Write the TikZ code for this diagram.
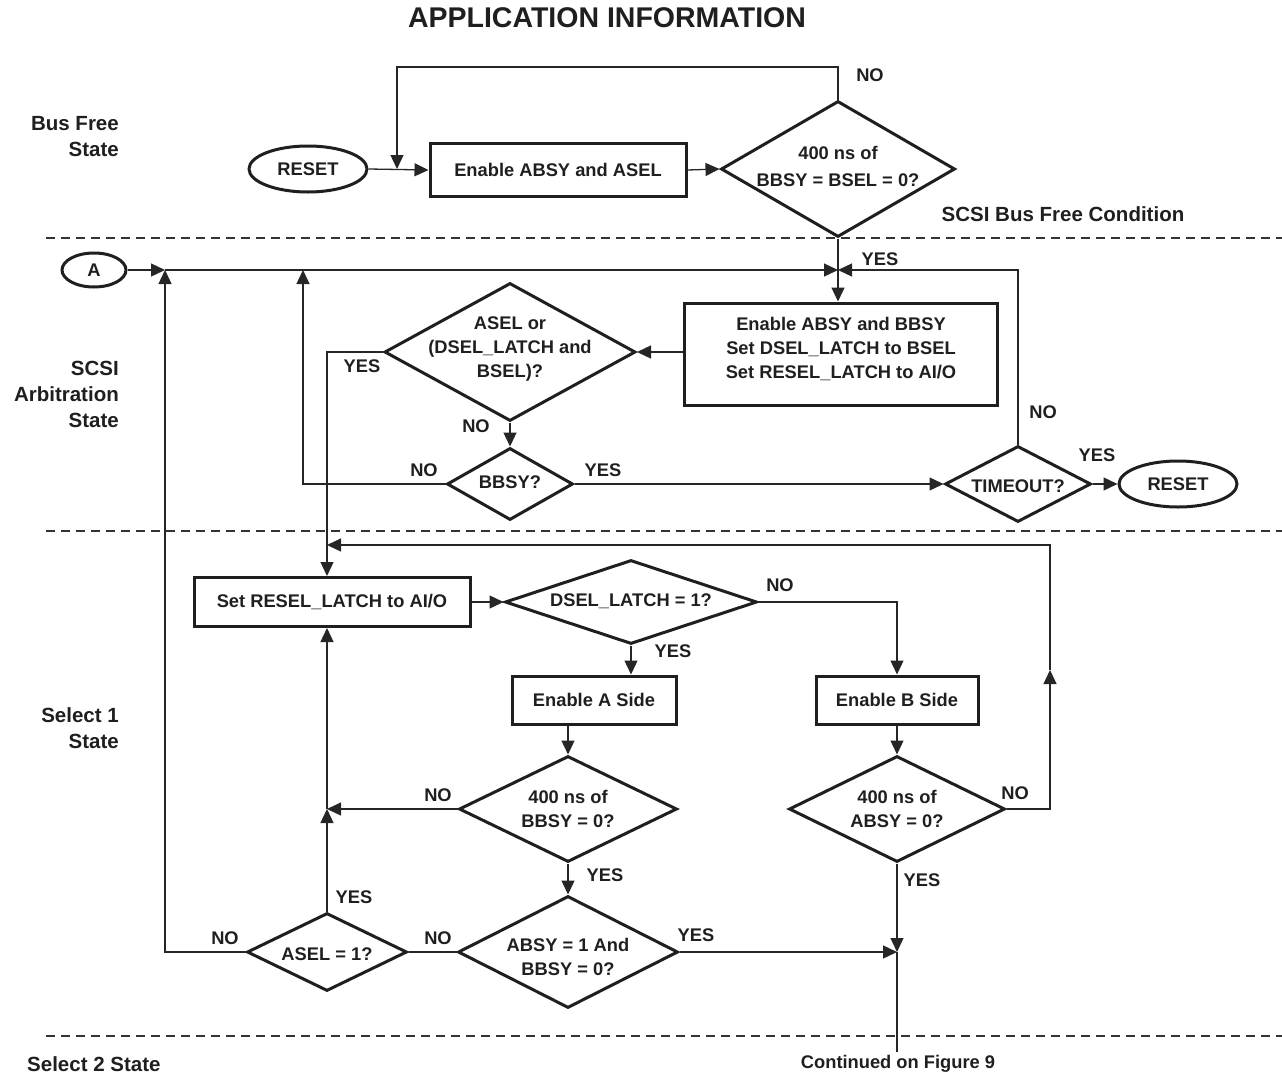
\documentclass[tikz,border=0pt]{standalone}
\usepackage{fontspec}
\setmainfont{Liberation Sans}
\usetikzlibrary{arrows.meta,shapes.geometric}
\begin{document}
\begin{tikzpicture}[x=1pt,y=-1pt,
  txt/.style={font=\fontsize{18.3}{24}\selectfont\bfseries, text=black!88, align=center, inner sep=0pt},
  st/.style={font=\fontsize{20.5}{26}\selectfont\bfseries, text=black!88, align=right, inner sep=0pt},
  box/.style={draw=black!88, rectangle, line width=3pt, inner sep=0pt, txt},
  dia/.style={draw=black!88, diamond, line width=3pt, inner sep=0pt},
  oval/.style={draw=black!88, ellipse, line width=3pt, inner sep=0pt, txt},
  conn/.style={draw=black!85, line width=1.3pt},
  arr/.style={conn, -{Triangle[length=14pt,width=13pt]}},
  sepline/.style={draw=black!80, line width=2pt, dash pattern=on 8.5pt off 6.5pt}]
\useasboundingbox (0,0) rectangle (1282,1076);

% title and state labels
\node[font=\fontsize{28.5}{32}\selectfont\bfseries, text=black!88, inner sep=0pt] (title) at (607,18) {APPLICATION INFORMATION};
\node[st, anchor=east] (s1) at (119,137) {Bus Free\\State};
\node[st, anchor=east] (s2) at (119,394) {SCSI\\Arbitration\\State};
\node[st, anchor=east] (s3) at (119,728) {Select 1\\State};
\node[st, anchor=west] (s4) at (27,1064) {Select 2 State};
\node[st, align=center] (cond) at (1063,214) {SCSI Bus Free Condition};
\node[txt] (cont) at (898,1064) {Continued on Figure 9};

% separators
\draw[sepline] (46,238) -- (1282,238);
\draw[sepline] (46,531) -- (1282,531);
\draw[sepline] (46,1036) -- (1282,1036);

% bus free state
\node[oval, minimum width=118pt, minimum height=46pt] (reset1) at (308,169) {RESET};
\node[box, minimum width=256pt, minimum height=53pt] (b1) at (558,170) {Enable ABSY and ASEL};
\node[dia, minimum width=234pt, minimum height=136pt] (d1) at (838,169) {};
\node[txt, font=\fontsize{18.3}{27}\selectfont\bfseries] (t1) at (838,166) {400 ns of\\BBSY = BSEL = 0?};

% arbitration state
\node[oval, minimum width=64pt, minimum height=34pt] (A) at (94,270) {A};
\node[box, minimum width=313pt, minimum height=102pt] (b2) at (841,354) {};
\node[txt] (t2) at (841,349) {Enable ABSY and BBSY\\Set DSEL\_LATCH to BSEL\\Set RESEL\_LATCH to AI/O};
\node[dia, minimum width=251pt, minimum height=138pt] (d2) at (510,352) {};
\node[txt] (t3) at (510,349) {ASEL or\\(DSEL\_LATCH and\\BSEL)?};
\node[dia, minimum width=126pt, minimum height=72pt] (d3) at (510,484) {};
\node[txt] (t4) at (510,482) {BBSY?};
\node[dia, minimum width=146pt, minimum height=76pt] (d5) at (1018,484) {};
\node[txt] (t5) at (1018,486) {TIMEOUT?};
\node[oval, minimum width=118pt, minimum height=46pt] (reset2) at (1178,484) {RESET};

% select 1 state
\node[box, minimum width=276pt, minimum height=49pt] (b3) at (332,602) {Set RESEL\_LATCH to AI/O};
\node[dia, minimum width=252pt, minimum height=84pt] (d4) at (631,602) {};
\node[txt] (t6) at (631,601) {DSEL\_LATCH = 1?};
\node[box, minimum width=164pt, minimum height=48pt] (bA) at (594,700) {Enable A Side};
\node[box, minimum width=162pt, minimum height=48pt] (bB) at (897,700) {Enable B Side};
\node[dia, minimum width=218pt, minimum height=106pt] (d6) at (568,809) {};
\node[txt] (t7) at (568,809) {400 ns of\\BBSY = 0?};
\node[dia, minimum width=216pt, minimum height=106pt] (d7) at (897,809) {};
\node[txt] (t8) at (897,809) {400 ns of\\ABSY = 0?};
\node[dia, minimum width=220pt, minimum height=112pt] (d8) at (568,952) {};
\node[txt] (t9) at (568,957) {ABSY = 1 And\\BBSY = 0?};
\node[dia, minimum width=160pt, minimum height=78pt] (as) at (327,952) {};
\node[txt] (t10) at (327,954) {ASEL = 1?};

% coordinates
\coordinate (lp) at (397,67);
\coordinate (j1) at (397,169);
\coordinate (j2) at (838,270);
\coordinate (j3) at (165,270);
\coordinate (j4) at (303,270);
\coordinate (x327) at (327,0);
\coordinate (j5) at (327,809);
\coordinate (j6) at (897,952);
\coordinate (j7) at (327,545);
\coordinate (m1) at (1050,670);
\coordinate (endc) at (897,1052);

% connectors: bus free
\draw[arr] (reset1.east) -- (b1.west);
\draw[arr] (d1.north) |- (lp) -- (j1);
\draw[arr] (b1.east) -- (d1.west);
\draw[arr] (d1.south) -- (d1.south |- b2.north);
\draw[arr] (A.east) -- (j3);
\draw[arr] (j3) -- (j2);
\draw[arr] (d5.north) |- (j2);

% connectors: arbitration
\draw[arr] (b2.west |- d2.east) -- (d2.east);
\draw[arr] (d2.west) -| (x327 |- b3.north);
\draw[arr] (d2.south) -- (d3.north);
\draw[arr] (d3.west) -| (j4);
\draw[arr] (d3.east) -- (d5.west);
\draw[arr] (d5.east) -- (reset2.west);

% connectors: select 1
\draw[arr] (d7.east) -| (m1);
\draw[arr] (m1) |- (j7);
\draw[arr] (b3.east) -- (d4.west);
\draw[arr] (d4.east) -| (bB.north);
\draw[arr] (d4.south) -- (d4.south |- bA.north);
\draw[arr] (d6.north |- bA.south) -- (d6.north);
\draw[arr] (bB.south) -- (d7.north);
\draw[arr] (d6.west) -- (j5);
\draw[arr] (as.north) -- (j5);
\draw[arr] (j5) -- (x327 |- b3.south);
\draw[arr] (d6.south) -- (d8.north);
\draw[conn] (d8.west) -- (as.east);
\draw[arr] (as.west) -| (j3);
\draw[arr] (d8.east) -- (j6);
\draw[arr] (d7.south) -- (j6);
\draw[conn] (j6) -- (endc);

% YES / NO labels
\node[txt] (n1) at (870,75) {NO};
\node[txt] (y1) at (880,259) {YES};
\node[txt] (y2) at (362,366) {YES};
\node[txt] (n2) at (476,426) {NO};
\node[txt] (n3) at (424,470) {NO};
\node[txt] (y3) at (603,470) {YES};
\node[txt] (n4) at (1043,412) {NO};
\node[txt] (y4) at (1097,455) {YES};
\node[txt] (n5) at (780,585) {NO};
\node[txt] (y5) at (673,651) {YES};
\node[txt] (n6) at (438,795) {NO};
\node[txt] (n7) at (1015,793) {NO};
\node[txt] (y6) at (605,875) {YES};
\node[txt] (y7) at (922,880) {YES};
\node[txt] (y8) at (354,897) {YES};
\node[txt] (n8) at (225,938) {NO};
\node[txt] (n9) at (438,938) {NO};
\node[txt] (y9) at (696,935) {YES};
\end{tikzpicture}
\end{document}
